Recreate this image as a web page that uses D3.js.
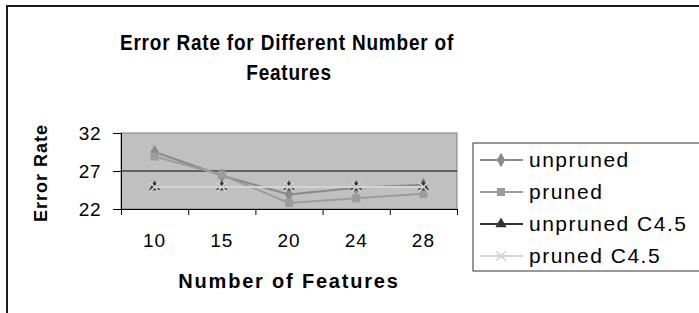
<!DOCTYPE html>
<html>
<head>
<meta charset="utf-8">
<script src="https://cdn.jsdelivr.net/npm/d3@7"></script>
<style>
  body { margin: 0; background: #fff; }
  svg { display: block; font-family: "Liberation Sans", Arial, sans-serif; }
</style>
</head>
<body>
<svg id="chart" width="699" height="313"></svg>
<script>
// chart data
let featureCounts = ['10', '15', '20', '24', '28'];
let unpruned = [29.5, 26.4, 23.9, 24.8, 25.2];
let pruned = [28.9, 26.5, 22.8, 23.4, 24.0];
let unprunedC45 = [24.9, 24.9, 24.9, 24.9, 24.9];
let prunedC45 = [24.9, 24.9, 24.9, 24.9, 24.9];
let seriesNames = ['unpruned', 'pruned', 'unpruned C4.5', 'pruned C4.5'];
let yTicks = [22, 27, 32];

let series = [
    {name: seriesNames[0], values: unpruned, color: '#8a8a8a', marker: 'diamond'},
    {name: seriesNames[1], values: pruned, color: '#9c9c9c', marker: 'square'},
    {name: seriesNames[2], values: unprunedC45, color: '#333333', marker: 'triangle'},
    {name: seriesNames[3], values: prunedC45, color: '#d4d4d4', marker: 'cross'}
];

let svg = d3.select('#chart');
let plot = {left: 121, right: 457, top: 133, bottom: 209};

// outer chart frame (runs off the right and bottom edges)
svg.append('rect')
    .attr('x', 7).attr('y', 6)
    .attr('width', 760).attr('height', 400)
    .attr('fill', 'none')
    .attr('stroke', '#1a1a1a')
    .attr('stroke-width', 2);

// title, a little stretched vertically like the original
function titleLine(text, x, y) {
    svg.append('text')
        .attr('transform', `translate(${x}, ${y}) scale(1, 1.2)`)
        .attr('text-anchor', 'middle')
        .attr('font-weight', 'bold')
        .attr('font-size', 19)
        .attr('letter-spacing', 0.8)
        .attr('fill', '#000')
        .text(text);
}
titleLine('Error Rate for Different Number of', 287, 50);
titleLine('Features', 289, 80);

let xBand = d3.scaleBand()
    .domain(featureCounts)
    .range([plot.left, plot.right]);

let xEdges = d3.scaleLinear()
    .domain([0, featureCounts.length])
    .range([plot.left, plot.right]);

let yScale = d3.scaleLinear()
    .domain([22, 32])
    .range([plot.bottom, plot.top]);

// plot background
svg.append('rect')
    .attr('x', plot.left).attr('y', plot.top)
    .attr('width', plot.right - plot.left)
    .attr('height', plot.bottom - plot.top)
    .attr('fill', '#c0c0c0')
    .attr('stroke', '#808080')
    .attr('stroke-width', 1);

// gridline(s)
svg.append('g')
    .selectAll('line')
    .data(yTicks.slice(1, -1))
    .join('line')
    .attr('x1', plot.left).attr('x2', plot.right)
    .attr('y1', d => yScale(d)).attr('y2', d => yScale(d))
    .attr('stroke', '#000')
    .attr('stroke-width', 1);

// y axis
let yAxis = svg.append('g')
    .attr('transform', `translate(${plot.left}, 0)`)
    .call(d3.axisLeft(yScale).tickValues(yTicks).tickSize(8).tickPadding(12));
yAxis.selectAll('text').attr('font-size', 19).attr('font-family', null).attr('letter-spacing', 0.5).attr('fill', '#000');

// x axis: tick marks between categories, labels at category centres
svg.append('g')
    .attr('transform', `translate(0, ${plot.bottom})`)
    .call(d3.axisBottom(xEdges).tickValues(d3.range(featureCounts.length + 1)).tickFormat('').tickSize(6));

let xAxis = svg.append('g')
    .attr('transform', `translate(0, ${plot.bottom})`)
    .call(d3.axisBottom(xBand).tickSize(0).tickPadding(25));
xAxis.select('.domain').remove();
xAxis.selectAll('text').attr('font-size', 19).attr('font-family', null).attr('letter-spacing', 1).attr('fill', '#000');

svg.selectAll('.domain').attr('stroke', '#000');
svg.selectAll('.tick line').attr('stroke', '#000');

// axis titles
svg.append('text')
    .attr('x', 289).attr('y', 288)
    .attr('text-anchor', 'middle')
    .attr('font-weight', 'bold')
    .attr('font-size', 20)
    .attr('letter-spacing', 1.8)
    .text('Number of Features');

svg.append('text')
    .attr('transform', 'translate(47, 173) rotate(-90)')
    .attr('text-anchor', 'middle')
    .attr('font-weight', 'bold')
    .attr('font-size', 18)
    .attr('letter-spacing', 1)
    .text('Error Rate');

// marker shapes
let symbolFor = {
    diamond: d3.symbol(d3.symbolDiamond, 60),
    square: d3.symbol(d3.symbolSquare, 64),
    triangle: d3.symbol(d3.symbolTriangle, 55),
    cross: d3.symbol(d3.symbolX, 60)
};

function drawMarker(g, s, x, y) {
    let path = g.append('path')
        .attr('d', symbolFor[s.marker]())
        .attr('transform', `translate(${x}, ${y})`);
    if (s.marker === 'cross') path.attr('fill', 'none').attr('stroke', s.color).attr('stroke-width', 1.6);
    else path.attr('fill', s.color);
}

let line = d3.line()
    .x((d, i) => xBand(featureCounts[i]) + xBand.bandwidth() / 2)
    .y(d => yScale(d));

series.forEach(s => {
    let g = svg.append('g');
    g.append('path')
        .datum(s.values)
        .attr('d', line)
        .attr('fill', 'none')
        .attr('stroke', s.color)
        .attr('stroke-width', 2);
    s.values.forEach((v, i) => {
        drawMarker(g, s, xBand(featureCounts[i]) + xBand.bandwidth() / 2, yScale(v));
    });
});

// legend
let legend = svg.append('g');
legend.append('rect')
    .attr('x', 473).attr('y', 143)
    .attr('width', 300).attr('height', 128)
    .attr('fill', '#fff')
    .attr('stroke', '#333')
    .attr('stroke-width', 1);

series.forEach((s, i) => {
    let cy = 160 + i * 32;
    let row = legend.append('g');
    row.append('line')
        .attr('x1', 480).attr('x2', 523)
        .attr('y1', cy).attr('y2', cy)
        .attr('stroke', s.color)
        .attr('stroke-width', 2);
    drawMarker(row, s, 501, cy);
    row.append('text')
        .attr('x', 529).attr('y', cy + 7)
        .attr('font-size', 21)
        .attr('letter-spacing', 1.5)
        .attr('fill', '#000')
        .text(s.name);
});
</script>
</body>
</html>
